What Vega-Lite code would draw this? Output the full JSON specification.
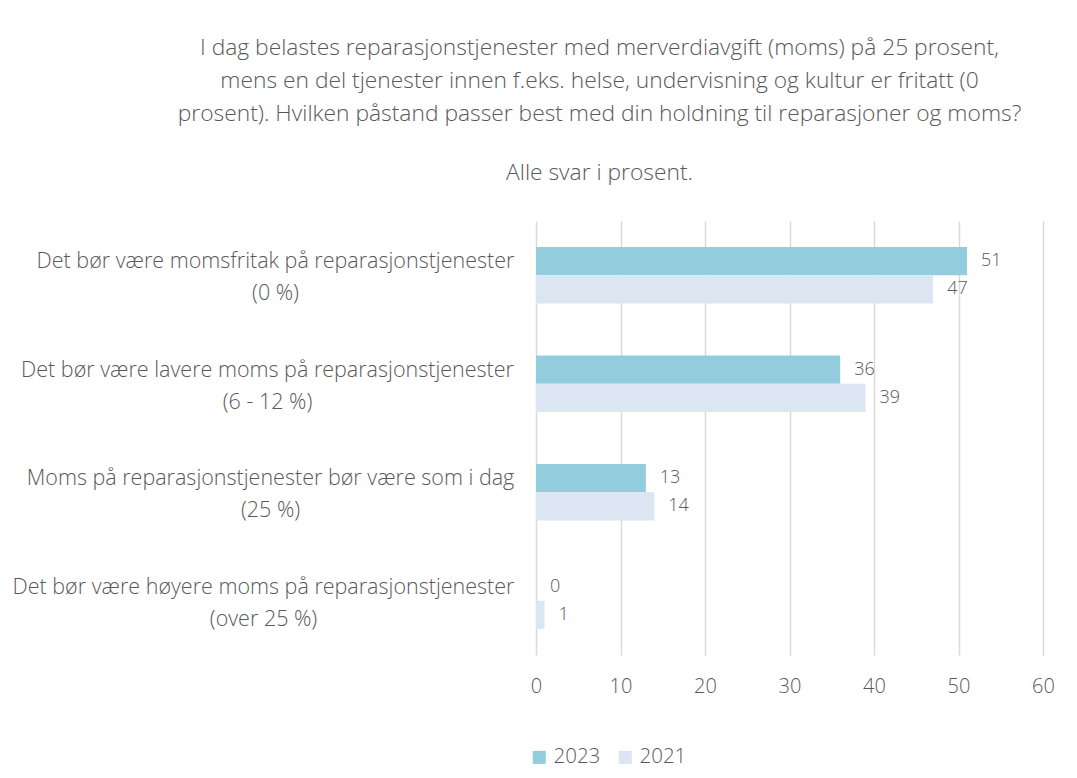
{
  "$schema": "https://vega.github.io/schema/vega-lite/v6.json",
  "autosize": "none",
  "width": 507,
  "height": 434,
  "padding": {"left": 536, "top": 221, "right": 34, "bottom": 123},
  "background": "white",
  "title": {
    "text": ["I dag belastes reparasjonstjenester med merverdiavgift (moms) på 25 prosent,", "mens en del tjenester innen f.eks. helse, undervisning og kultur er fritatt (0", "prosent). Hvilken påstand passer best med din holdning til reparasjoner og moms?"],
    "subtitle": "Alle svar i prosent.",
    "anchor": "middle",
    "dx": -190,
    "offset": 36,
    "font": "Open Sans",
    "fontSize": 22.8,
    "fontWeight": 300,
    "lineHeight": 33,
    "color": "#595959",
    "subtitleFont": "Open Sans",
    "subtitleFontSize": 22.8,
    "subtitleFontWeight": 300,
    "subtitleColor": "#595959",
    "subtitlePadding": 36
  },
  "data": {
    "values": [
      {"kategori": "Det bør være momsfritak på reparasjonstjenester|(0 %)", "år": "2023", "prosent": 51},
      {"kategori": "Det bør være momsfritak på reparasjonstjenester|(0 %)", "år": "2021", "prosent": 47},
      {"kategori": "Det bør være lavere moms på reparasjonstjenester|(6 - 12 %)", "år": "2023", "prosent": 36},
      {"kategori": "Det bør være lavere moms på reparasjonstjenester|(6 - 12 %)", "år": "2021", "prosent": 39},
      {"kategori": "Moms på reparasjonstjenester bør være som i dag|(25 %)", "år": "2023", "prosent": 13},
      {"kategori": "Moms på reparasjonstjenester bør være som i dag|(25 %)", "år": "2021", "prosent": 14},
      {"kategori": "Det bør være høyere moms på reparasjonstjenester|(over 25 %)", "år": "2023", "prosent": 0},
      {"kategori": "Det bør være høyere moms på reparasjonstjenester|(over 25 %)", "år": "2021", "prosent": 1}
    ]
  },
  "encoding": {
    "y": {
      "field": "kategori",
      "type": "nominal",
      "sort": null,
      "scale": {"paddingInner": 0.48, "paddingOuter": 0.24},
      "axis": {
        "title": null,
        "domain": false,
        "ticks": false,
        "labelExpr": "split(datum.label, '|')",
        "labelAlign": "center",
        "labelBaseline": "middle",
        "labelOffset": -13,
        "labelPadding": {
          "condition": [
            {"test": "indexof(datum.value, 'momsfritak') >= 0", "value": 261},
            {"test": "indexof(datum.value, 'lavere') >= 0", "value": 269},
            {"test": "indexof(datum.value, 'som i dag') >= 0", "value": 266}
          ],
          "value": 273
        },
        "labelFont": "Open Sans",
        "labelFontWeight": 300,
        "labelFontSize": 21.5,
        "labelLineHeight": 32,
        "labelColor": "#595959",
        "labelLimit": 0
      }
    },
    "yOffset": {"field": "år", "type": "nominal", "sort": ["2023", "2021"]},
    "x": {
      "field": "prosent",
      "type": "quantitative",
      "scale": {"domain": [0, 60], "nice": false},
      "axis": {
        "title": null,
        "values": [0, 10, 20, 30, 40, 50, 60],
        "domain": false,
        "ticks": false,
        "grid": true,
        "gridColor": "#D9D9D9",
        "gridWidth": 1.5,
        "labelFlush": false,
        "labelPadding": 21,
        "labelFont": "Open Sans",
        "labelFontWeight": 300,
        "labelFontSize": 20,
        "labelColor": "#595959"
      }
    }
  },
  "layer": [
    {
      "mark": {"type": "bar"},
      "encoding": {
        "color": {
          "field": "år",
          "type": "nominal",
          "sort": ["2023", "2021"],
          "scale": {"domain": ["2023", "2021"], "range": ["#93CDDD", "#DCE6F2"]},
          "legend": {
            "title": null,
            "orient": "none",
            "direction": "horizontal",
            "legendX": -7,
            "legendY": 526,
            "symbolType": "square",
            "symbolSize": 170,
            "symbolStrokeWidth": 0,
            "symbolOpacity": 1,
            "labelFont": "Open Sans",
            "labelFontWeight": 300,
            "labelFontSize": 20.5,
            "labelColor": "#595959",
            "columnPadding": 14,
            "labelOffset": 4
          }
        }
      }
    },
    {
      "mark": {"type": "text", "align": "left", "baseline": "middle", "dx": 14, "font": "Open Sans", "fontWeight": 300, "fontSize": 18, "color": "#595959"},
      "encoding": {
        "text": {"field": "prosent", "type": "quantitative"}
      }
    }
  ],
  "config": {"view": {"stroke": null}}
}
